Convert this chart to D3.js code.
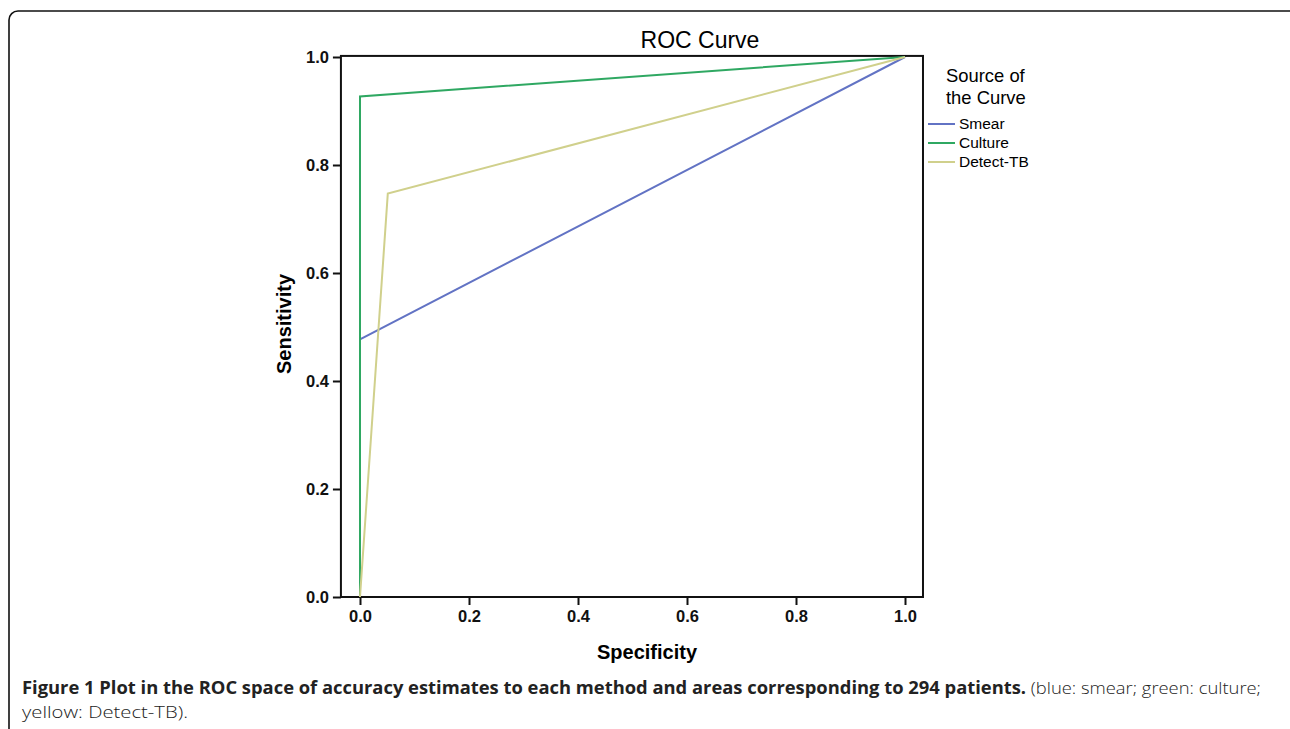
<!DOCTYPE html>
<html>
<head>
<meta charset="utf-8">
<script src="https://cdn.jsdelivr.net/npm/d3@7"></script>
<style>
  body { margin: 0; background: #fff; }
  svg { display: block; }
  .tick text { font-family: "Liberation Sans", Arial, sans-serif; font-weight: bold; font-size: 16.5px; }
</style>
</head>
<body>
<svg id="chart" width="1290" height="729"></svg>
<script>
// series: [specificity axis value, sensitivity]
const seriesNames = ['Smear', 'Culture', 'Detect-TB'];
const seriesColors = ['#6273c4', '#2fa862', '#d0d08c'];
const smearPoints = [[0, 0], [0, 0.477], [1, 1]];
const culturePoints = [[0, 0], [0, 0.927], [1, 1]];
const detectPoints = [[0, 0], [0.051, 0.747], [1, 1]];
const tickValues = [0, 0.2, 0.4, 0.6, 0.8, 1.0];

const svg = d3.select('#chart');

// outer figure frame
svg.append('rect')
    .attr('x', 9).attr('y', 11)
    .attr('width', 1300).attr('height', 760)
    .attr('rx', 9)
    .style('fill', 'none')
    .style('stroke', '#111')
    .style('stroke-width', 1.6);

const x = d3.scaleLinear().domain([0, 1]).range([360, 905]);
const y = d3.scaleLinear().domain([0, 1]).range([597, 57]);

const frameLeft = x(-0.035);
const frameRight = x(1.033);
const frameTop = y(1.002);
const frameBottom = y(0);

// plot frame
svg.append('rect')
    .attr('x', frameLeft).attr('y', frameTop)
    .attr('width', frameRight - frameLeft)
    .attr('height', frameBottom - frameTop)
    .style('fill', 'none')
    .style('stroke', '#111')
    .style('stroke-width', 2);

// axes
const yAxis = svg.append('g')
    .attr('transform', `translate(${frameLeft},0)`)
    .call(d3.axisLeft(y).tickValues(tickValues).tickFormat(d3.format('.1f')).tickSize(8).tickPadding(4));
const xAxis = svg.append('g')
    .attr('transform', `translate(0,${frameBottom})`)
    .call(d3.axisBottom(x).tickValues(tickValues).tickFormat(d3.format('.1f')).tickSize(8).tickPadding(5));
[xAxis, yAxis].forEach(a => {
    a.select('.domain').remove();
    a.selectAll('.tick line').style('stroke', '#111').style('stroke-width', 2);
    a.selectAll('.tick text').style('fill', '#111');
});

// curves
const line = d3.line().x(d => x(d[0])).y(d => y(d[1]));
const allSeries = [smearPoints, culturePoints, detectPoints];
svg.append('g').selectAll('path')
    .data(allSeries)
    .join('path')
    .attr('d', line)
    .style('fill', 'none')
    .style('stroke', (d, i) => seriesColors[i])
    .style('stroke-width', 2);

// titles
svg.append('text')
    .attr('x', 700).attr('y', 48)
    .attr('text-anchor', 'middle')
    .style('font-family', '"Liberation Sans", Arial, sans-serif')
    .style('font-size', '23px')
    .text('ROC Curve');

svg.append('text')
    .attr('transform', 'translate(291,324) rotate(-90)')
    .attr('text-anchor', 'middle')
    .style('font-family', '"Liberation Sans", Arial, sans-serif')
    .style('font-weight', 'bold')
    .style('font-size', '20px')
    .text('Sensitivity');

svg.append('text')
    .attr('x', 647).attr('y', 659)
    .attr('text-anchor', 'middle')
    .style('font-family', '"Liberation Sans", Arial, sans-serif')
    .style('font-weight', 'bold')
    .style('font-size', '20px')
    .text('Specificity');

// legend
const legend = svg.append('g');
['Source of', 'the Curve'].forEach((t, i) => {
    legend.append('text')
        .attr('x', 946).attr('y', 82 + i * 22)
        .style('font-family', '"Liberation Sans", Arial, sans-serif')
        .style('font-size', '18.4px')
        .text(t);
});
seriesNames.forEach((name, i) => {
    const ly = 124 + i * 19;
    legend.append('line')
        .attr('x1', 928).attr('x2', 955)
        .attr('y1', ly).attr('y2', ly)
        .style('stroke', seriesColors[i])
        .style('stroke-width', 2);
    legend.append('text')
        .attr('x', 959).attr('y', ly + 5)
        .style('font-family', '"Liberation Sans", Arial, sans-serif')
        .style('font-size', '15.5px')
        .text(name);
});

// caption
const cap1 = svg.append('text')
    .attr('x', 22).attr('y', 694)
    .attr('textLength', 1239)
    .attr('lengthAdjust', 'spacingAndGlyphs')
    .style('font-family', '"Open Sans", "Noto Sans", sans-serif')
    .style('font-size', '17px')
    .style('fill', '#222');
cap1.append('tspan').style('font-weight', 'bold')
    .text('Figure 1 Plot in the ROC space of accuracy estimates to each method and areas corresponding to 294 patients.');
cap1.append('tspan').style('font-weight', '300').text(' (blue: smear; green: culture;');

svg.append('text')
    .attr('x', 22).attr('y', 718)
    .attr('textLength', 166)
    .attr('lengthAdjust', 'spacingAndGlyphs')
    .style('font-family', '"Open Sans", "Noto Sans", sans-serif')
    .style('font-size', '17px')
    .style('font-weight', '300')
    .style('fill', '#222')
    .text('yellow: Detect-TB).');
</script>
</body>
</html>
